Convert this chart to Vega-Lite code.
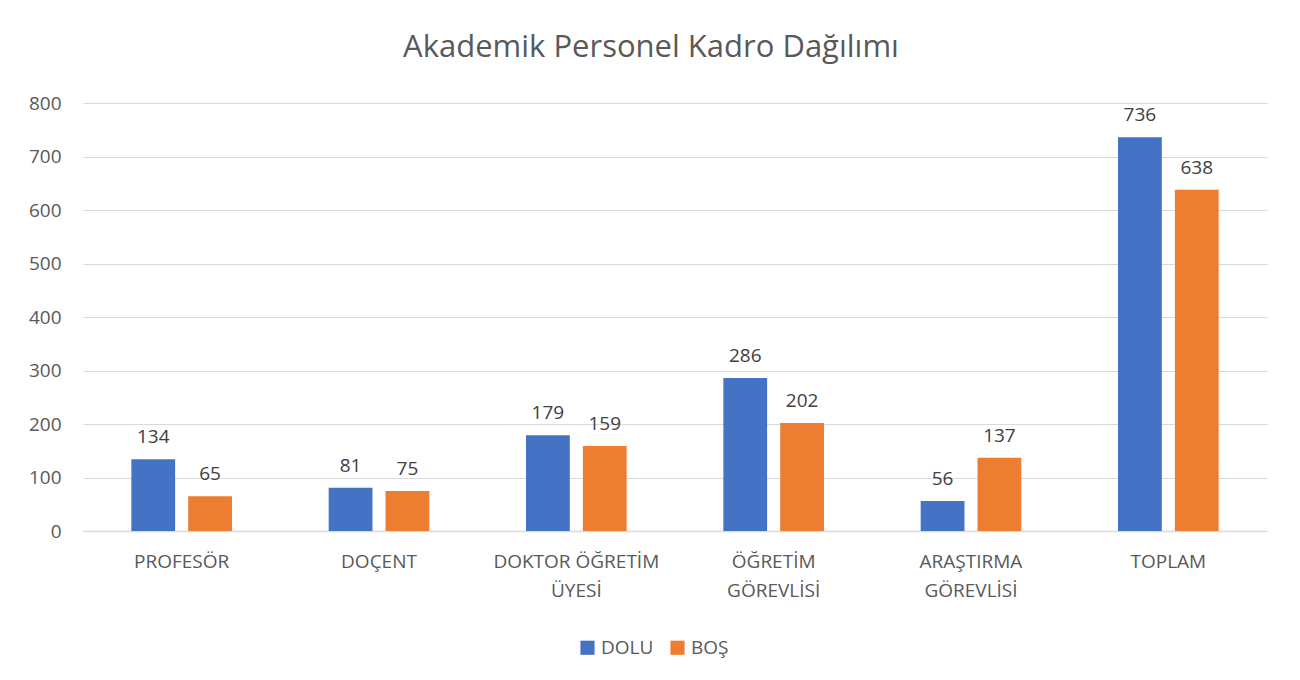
{
  "$schema": "https://vega.github.io/schema/vega-lite/v6.json",
  "width": 1184,
  "height": 428,
  "autosize": {"type": "none"},
  "padding": {"left": 83, "top": 103, "right": 33, "bottom": 149},
  "background": "white",
  "title": {
    "text": "Akademik Personel Kadro Dağılımı",
    "font": "Open Sans",
    "fontSize": 31,
    "fontWeight": "normal",
    "color": "#595959",
    "anchor": "middle",
    "dx": -24,
    "offset": 30
  },
  "data": {
    "values": [
      {"kadro": "PROFESÖR", "durum": "DOLU", "sayi": 134},
      {"kadro": "PROFESÖR", "durum": "BOŞ", "sayi": 65},
      {"kadro": "DOÇENT", "durum": "DOLU", "sayi": 81},
      {"kadro": "DOÇENT", "durum": "BOŞ", "sayi": 75},
      {"kadro": "DOKTOR ÖĞRETİM ÜYESİ", "durum": "DOLU", "sayi": 179},
      {"kadro": "DOKTOR ÖĞRETİM ÜYESİ", "durum": "BOŞ", "sayi": 159},
      {"kadro": "ÖĞRETİM GÖREVLİSİ", "durum": "DOLU", "sayi": 286},
      {"kadro": "ÖĞRETİM GÖREVLİSİ", "durum": "BOŞ", "sayi": 202},
      {"kadro": "ARAŞTIRMA GÖREVLİSİ", "durum": "DOLU", "sayi": 56},
      {"kadro": "ARAŞTIRMA GÖREVLİSİ", "durum": "BOŞ", "sayi": 137},
      {"kadro": "TOPLAM", "durum": "DOLU", "sayi": 736},
      {"kadro": "TOPLAM", "durum": "BOŞ", "sayi": 638}
    ]
  },
  "encoding": {
    "x": {
      "field": "kadro",
      "type": "nominal",
      "sort": null,
      "title": null,
      "scale": {"paddingInner": 0.49, "paddingOuter": 0.245},
      "axis": {
        "labelAngle": 0,
        "labelFont": "Open Sans",
        "labelFontSize": 19,
        "labelColor": "#595959",
        "labelPadding": 21,
        "labelLineHeight": 29,
        "labelBaseline": "top",
        "labelExpr": "datum.label == 'DOKTOR ÖĞRETİM ÜYESİ' ? ['DOKTOR ÖĞRETİM', 'ÜYESİ'] : (indexof(datum.label, ' ') > 0 ? split(datum.label, ' ') : datum.label)",
        "ticks": false,
        "domainColor": "#d9d9d9",
        "domainWidth": 1.5,
        "grid": false
      }
    },
    "xOffset": {
      "field": "durum",
      "type": "nominal",
      "sort": ["DOLU", "BOŞ"],
      "scale": {"paddingInner": 0.23, "paddingOuter": 0}
    },
    "y": {
      "field": "sayi",
      "type": "quantitative",
      "title": null,
      "scale": {"domain": [0, 800], "nice": false},
      "axis": {
        "values": [0, 100, 200, 300, 400, 500, 600, 700, 800],
        "labelFont": "Open Sans",
        "labelFontSize": 19,
        "labelColor": "#595959",
        "labelPadding": 22,
        "ticks": false,
        "domain": false,
        "gridColor": "#d9d9d9",
        "gridWidth": 1.2
      }
    }
  },
  "layer": [
    {
      "mark": {"type": "bar"},
      "encoding": {
        "color": {
          "field": "durum",
          "type": "nominal",
          "sort": ["DOLU", "BOŞ"],
          "scale": {"domain": ["DOLU", "BOŞ"], "range": ["#4472C4", "#ED7D31"]},
          "legend": {
            "title": null,
            "orient": "none",
            "direction": "horizontal",
            "legendX": 495,
            "legendY": 535,
            "symbolType": "square",
            "symbolSize": 200,
            "symbolStrokeWidth": 0,
            "labelFont": "Open Sans",
            "labelFontSize": 19,
            "labelColor": "#595959",
            "labelOffset": 4,
            "columnPadding": 14
          }
        }
      }
    },
    {
      "mark": {
        "type": "text",
        "baseline": "bottom",
        "dy": -12,
        "font": "Open Sans",
        "fontSize": 19,
        "color": "#404040"
      },
      "encoding": {
        "text": {"field": "sayi", "type": "quantitative"}
      }
    }
  ],
  "config": {
    "view": {"stroke": null}
  }
}
